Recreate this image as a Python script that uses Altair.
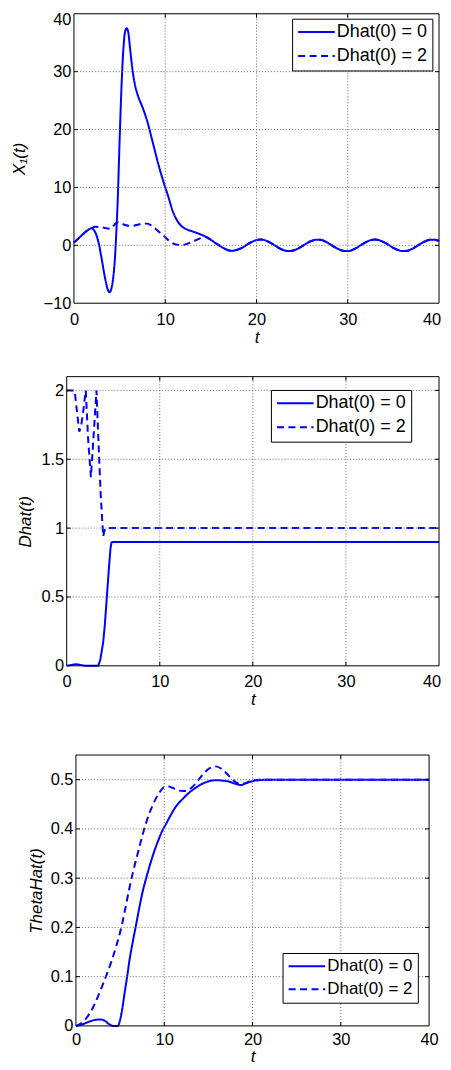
import altair as alt
import pandas as pd

SERIES = ["Dhat(0) = 0", "Dhat(0) = 2"]
T_MIN, T_MAX = 0, 40
X_TICKS = [0, 10, 20, 30, 40]

# ---------------- Panel 1 : X1(t) ----------------
x1_solid_t = [0, 0.5, 1.0, 1.5, 1.9, 2.2, 2.5, 2.8, 3.1, 3.4, 3.7, 3.9, 4.1, 4.3, 4.5,
              4.65, 4.8, 5.0, 5.2, 5.4, 5.6, 5.78, 5.95, 6.15, 6.4, 6.65, 7.0, 7.5, 8.0, 8.6,
              9.2, 9.8, 10.3, 10.8, 11.3, 11.8, 12.3, 13.0, 13.7, 14.3, 14.9, 15.5, 16.0, 16.5, 17.2,
              17.9, 18.5, 19.0, 19.5, 20.0, 20.5, 21.0, 21.5, 22.0, 22.5, 23.0, 23.5, 24.0, 24.5, 25.0,
              25.5, 26.0, 26.5, 27.0, 27.5, 28.0, 28.5, 29.0, 29.5, 30.0, 30.5, 31.0, 31.5, 32.0, 32.5,
              33.0, 33.5, 34.0, 34.5, 35.0, 35.5, 36.0, 36.5, 37.0, 37.5, 38.0, 38.5, 39.0, 39.5, 40.0]
x1_solid_v = [0.5, 1.2, 1.95, 2.6, 2.95, 2.6, 1.6, -0.3, -2.9, -5.6, -7.6, -8.1, -7.5, -5.6, -2.0,
              2.5, 8.0, 18.0, 27.0, 33.5, 36.9, 37.5, 36.8, 34.0, 30.5, 28.0, 25.9, 23.9, 21.6, 18.0,
              14.3, 11.0, 8.6, 6.0, 4.3, 3.3, 2.8, 2.4, 2.0, 1.6, 1.05, 0.4, -0.1, -0.55, -0.95,
              -0.75, -0.35, 0.15, 0.6, 0.9, 1.0, 0.85, 0.45, 0.0, -0.5, -0.85, -1.0, -0.9, -0.6, -0.15,
              0.35, 0.75, 0.95, 0.95, 0.7, 0.25, -0.25, -0.65, -0.95, -1.0, -0.8, -0.4, 0.1, 0.55, 0.9,
              1.0, 0.85, 0.5, 0.05, -0.45, -0.8, -1.0, -0.95, -0.65, -0.2, 0.3, 0.7, 0.95, 0.95, 0.75]
x1_dash_t = [0, 0.5, 1.0, 1.5, 1.9, 2.3, 2.8, 3.3, 3.7, 3.95, 4.2, 4.5, 4.8, 5.1, 5.5, 6.0, 6.5,
             7.0, 7.5, 8.0, 8.4, 8.9, 9.4, 9.9, 10.4, 10.9, 11.4, 11.9, 12.4, 13.0, 13.5, 14.0, 14.5]
x1_dash_v = [0.5, 1.2, 1.95, 2.6, 2.95, 3.2, 3.15, 3.05, 2.9, 2.85, 3.1, 3.7, 4.0, 3.9, 3.55, 3.4, 3.4,
             3.55, 3.75, 3.75, 3.5, 2.9, 2.2, 1.55, 0.8, 0.3, 0.08, 0.05, 0.25, 0.65, 1.0, 1.3, 1.45]
X1_MERGE_T = 14.9  # after this time the dashed run lies on the solid one
x1_ticks = [-10, 0, 10, 20, 30, 40]

# ---------------- Panel 2 : Dhat(t) ----------------
dh_solid_t = [0, 0.5, 1.0, 1.5, 2.0, 3.38, 3.6, 3.92, 4.1, 4.27, 4.42, 4.56, 4.7, 4.81, 4.95, 40]
dh_solid_v = [0, 0.006, 0.012, 0.006, 0, 0, 0.04, 0.17, 0.3, 0.46, 0.6, 0.73, 0.85, 0.895, 0.9, 0.9]
dh_dash_t = [0, 0.85, 1.1, 1.35, 1.55, 1.8, 2.05, 2.3, 2.6, 2.9, 3.2, 3.4, 3.65, 3.92, 4.05, 4.2, 40]
dh_dash_v = [2.0, 2.0, 1.85, 1.70, 1.74, 1.86, 2.0, 1.65, 1.37, 1.68, 2.0, 1.65, 1.25, 0.94, 0.98, 1.0, 1.0]
dh_ticks = [0, 0.5, 1, 1.5, 2]

# ---------------- Panel 3 : ThetaHat(t) ----------------
th_solid_t = [0, 0.7, 1.4, 2.1, 2.8, 3.3, 3.8, 4.2, 4.75, 5.0, 5.25, 5.52, 5.8, 6.08, 6.45,
              6.84, 7.2, 7.59, 8.0, 8.4, 8.9, 9.4, 9.8, 10.2, 10.8, 11.35, 12.1, 12.85, 13.6, 14.35,
              15.1, 15.85, 16.6, 17.35, 18.0, 18.67, 19.3, 19.98, 20.8, 21.6, 40]
th_solid_v = [0, 0.003, 0.008, 0.012, 0.013, 0.01, 0.003, 0.0, 0.0, 0.012, 0.035, 0.068, 0.1, 0.135, 0.172,
              0.208, 0.242, 0.275, 0.303, 0.328, 0.356, 0.38, 0.397, 0.41, 0.43, 0.446, 0.461, 0.474, 0.484, 0.492,
              0.497, 0.499, 0.498, 0.496, 0.492, 0.489, 0.493, 0.497, 0.499, 0.5, 0.5]
th_dash_t = [0, 0.5, 1.0, 1.5, 2.0, 2.5, 3.0, 3.5, 4.0, 4.5, 5.0, 5.5, 6.0, 6.5, 7.0, 7.5, 8.0, 8.5,
             9.0, 9.5, 10.0, 10.5, 11.0, 11.6, 12.2, 12.8, 13.4, 14.0, 14.6, 15.2, 15.85, 16.5, 17.0,
             17.5, 18.1, 18.7, 19.3, 20.0, 21.0, 40]
th_dash_v = [0, 0.004, 0.012, 0.024, 0.04, 0.06, 0.082, 0.105, 0.13, 0.158, 0.19, 0.23, 0.275, 0.315,
             0.35, 0.385, 0.415, 0.44, 0.46, 0.475, 0.485, 0.486, 0.483, 0.478, 0.477, 0.48, 0.489,
             0.502, 0.515, 0.524, 0.527, 0.522, 0.514, 0.504, 0.495, 0.491, 0.494, 0.499, 0.5, 0.5]
th_ticks = [0, 0.1, 0.2, 0.3, 0.4, 0.5]

for a, b in [(x1_solid_t, x1_solid_v), (x1_dash_t, x1_dash_v), (dh_solid_t, dh_solid_v),
             (dh_dash_t, dh_dash_v), (th_solid_t, th_solid_v), (th_dash_t, th_dash_v)]:
    assert len(a) == len(b), (len(a), len(b))

BLUE = "#0000ff"
GRID = "#6a6a6a"
FONT = "Liberation Sans"
TICK_LEN = 4
LABEL_SIZE = 16.5


def series_frame(st, sv, dt, dv):
    rows = [{"t": t, "v": v, "series": SERIES[1]} for t, v in zip(dt, dv)]
    rows += [{"t": t, "v": v, "series": SERIES[0]} for t, v in zip(st, sv)]
    return pd.DataFrame(rows)


x1_tail = [(t, v) for t, v in zip(x1_solid_t, x1_solid_v) if t >= X1_MERGE_T]
df1 = series_frame(x1_solid_t, x1_solid_v,
                   x1_dash_t + [t for t, _ in x1_tail], x1_dash_v + [v for _, v in x1_tail])
df2 = series_frame(dh_solid_t, dh_solid_v, dh_dash_t, dh_dash_v)
df3 = series_frame(th_solid_t, th_solid_v, th_dash_t, th_dash_v)


def make_panel(df, ydomain, yticks, ytitle, width, height, xrange_, yrange_, yoffset,
               ytitle_x, xtitle_y, legend_x, legend_y, legend_font, interp,
               top_flush=False, last_x_shift=0, x_label_pad=8):
    ymin, ymax = ydomain
    xs = alt.Scale(domain=[T_MIN, T_MAX], range=xrange_, nice=False, zero=False)
    ys = alt.Scale(domain=[ymin, ymax], range=yrange_, nice=False, zero=False)

    inner_x = X_TICKS[1:-1]
    inner_y = [v for v in yticks if ymin < v < ymax]

    if top_flush:
        lab_base = {"condition": {"test": f"datum.value == {ymax}", "value": "top"}, "value": "middle"}
        lab_off = {"condition": {"test": f"datum.value == {ymax}", "value": -2.5}, "value": 0}
    else:
        lab_base = "middle"
        lab_off = 0

    if last_x_shift:
        xlab_off = {"condition": {"test": f"datum.value == {T_MAX}", "value": last_x_shift}, "value": 0}
    else:
        xlab_off = 0

    xaxis = alt.Axis(values=X_TICKS, format="~f", title="t", titleFont=FONT, titleFontSize=17,
                     titleFontStyle="italic", titleFontWeight="normal", titleColor="black",
                     titleBaseline="alphabetic", titleY=xtitle_y,
                     labelFont=FONT, labelFontSize=LABEL_SIZE, labelColor="black",
                     labelPadding=x_label_pad, labelOffset=xlab_off,
                     labelFlush=False, labelOverlap=False, domain=False, ticks=False, tickSize=0,
                     grid=False)
    yaxis = alt.Axis(values=yticks, format="~f", title=ytitle, titleFont=FONT, titleFontSize=17,
                     titleFontStyle="italic", titleFontWeight="normal", titleColor="black",
                     titleBaseline="alphabetic", titleX=ytitle_x, titleAngle=270,
                     labelFont=FONT, labelFontSize=LABEL_SIZE, labelColor="black", labelPadding=3,
                     labelBaseline=lab_base, labelOffset=lab_off,
                     labelFlush=False, labelOverlap=False, domain=False, ticks=False, tickSize=0,
                     grid=False, offset=yoffset)

    def X(field):
        return alt.X(field, type="quantitative", scale=xs, axis=xaxis)

    def Y(field):
        return alt.Y(field, type="quantitative", scale=ys, axis=yaxis)

    def XD(val):
        return alt.XDatum(val, type="quantitative", scale=xs, axis=xaxis)

    def YD(val):
        return alt.YDatum(val, type="quantitative", scale=ys, axis=yaxis)

    legend = alt.Legend(title=None, orient="none", legendX=legend_x, legendY=legend_y,
                        direction="vertical", symbolType="stroke", symbolSize=1350,
                        symbolStrokeWidth=2, symbolStrokeColor=BLUE, symbolOffset=0,
                        labelFont=FONT, labelFontSize=legend_font, labelColor="black",
                        labelOffset=1, clipHeight=16.6, rowPadding=5.1, padding=5,
                        strokeColor="black", fillColor="white", cornerRadius=0)

    lines = alt.Chart(df).mark_line(color=BLUE, strokeWidth=2, interpolate=interp).encode(
        x=X("t"),
        y=Y("v"),
        strokeDash=alt.StrokeDash("series:N",
                                  scale=alt.Scale(domain=SERIES, range=[[1, 0], [7, 4.5]]),
                                  legend=legend),
    )

    xgrid = alt.Chart(pd.DataFrame({"g": inner_x})).mark_rule(
        color=GRID, strokeDash=[1, 2], strokeWidth=1).encode(
        x=X("g"), y=YD(ymin), y2=alt.Y2Datum(ymax))
    ygrid = alt.Chart(pd.DataFrame({"g": inner_y})).mark_rule(
        color=GRID, strokeDash=[1, 2], strokeWidth=1).encode(
        y=Y("g"), x=XD(T_MIN), x2=alt.X2Datum(T_MAX))

    one = pd.DataFrame({"k": [0]})
    frame = alt.Chart(one).mark_rect(fill="white", fillOpacity=0, stroke="black",
                                     strokeWidth=1).encode(
        x=XD(T_MIN), x2=alt.X2Datum(T_MAX), y=YD(ymin), y2=alt.Y2Datum(ymax))

    tx = pd.DataFrame({"g": inner_x})
    ty = pd.DataFrame({"g": inner_y})
    bottom_ticks = alt.Chart(tx).mark_rule(color="black", y2Offset=-TICK_LEN).encode(
        x=X("g"), y=YD(ymin), y2=alt.Y2Datum(ymin))
    top_ticks = alt.Chart(tx).mark_rule(color="black", y2Offset=TICK_LEN).encode(
        x=X("g"), y=YD(ymax), y2=alt.Y2Datum(ymax))
    left_ticks = alt.Chart(ty).mark_rule(color="black", x2Offset=TICK_LEN).encode(
        y=Y("g"), x=XD(T_MIN), x2=alt.X2Datum(T_MIN))
    right_ticks = alt.Chart(ty).mark_rule(color="black", x2Offset=-TICK_LEN).encode(
        y=Y("g"), x=XD(T_MAX), x2=alt.X2Datum(T_MAX))

    return alt.layer(lines, xgrid, ygrid, frame, bottom_ticks, top_ticks,
                     left_ticks, right_ticks).properties(
        width=width, height=height,
        view=alt.ViewBackground(stroke="transparent", strokeWidth=0))


W = 374.3
p1 = make_panel(df1, (-10, 40), x1_ticks, "X\u2081(t)", W, 291, [7.3, 374.3], [291, 0], -7.3,
                -50, 39.5, 226.6, 5, 18, "monotone", top_flush=True, last_x_shift=-7.5)
p2 = make_panel(df2, (0, 2.1), dh_ticks, "Dhat(t)", W, 290.7, [0, 374.3], [290.7, 0], 0,
                -36.7, 39.3, 205.3, 13.4, 18, "linear", last_x_shift=-7.5)
p3 = make_panel(df3, (0, 0.55), th_ticks, "ThetaHat(t)", W, 289.9, [9.3, 364.3], [289.9, 17.6], -9.3,
                -34.3, 35.5, 217, 216.6, 17, "monotone", x_label_pad=5.5)

chart = alt.vconcat(p1, p2, p3, spacing=29.8).resolve_scale(
    x="independent", y="independent", strokeDash="independent"
).resolve_legend(strokeDash="independent").properties(
    padding={"left": 2, "top": 0, "right": 0, "bottom": -2.5}
).configure_view(stroke="transparent", strokeWidth=0).configure(background="white")

chart.save("out.html", embed_options={"renderer": "svg", "actions": False})
